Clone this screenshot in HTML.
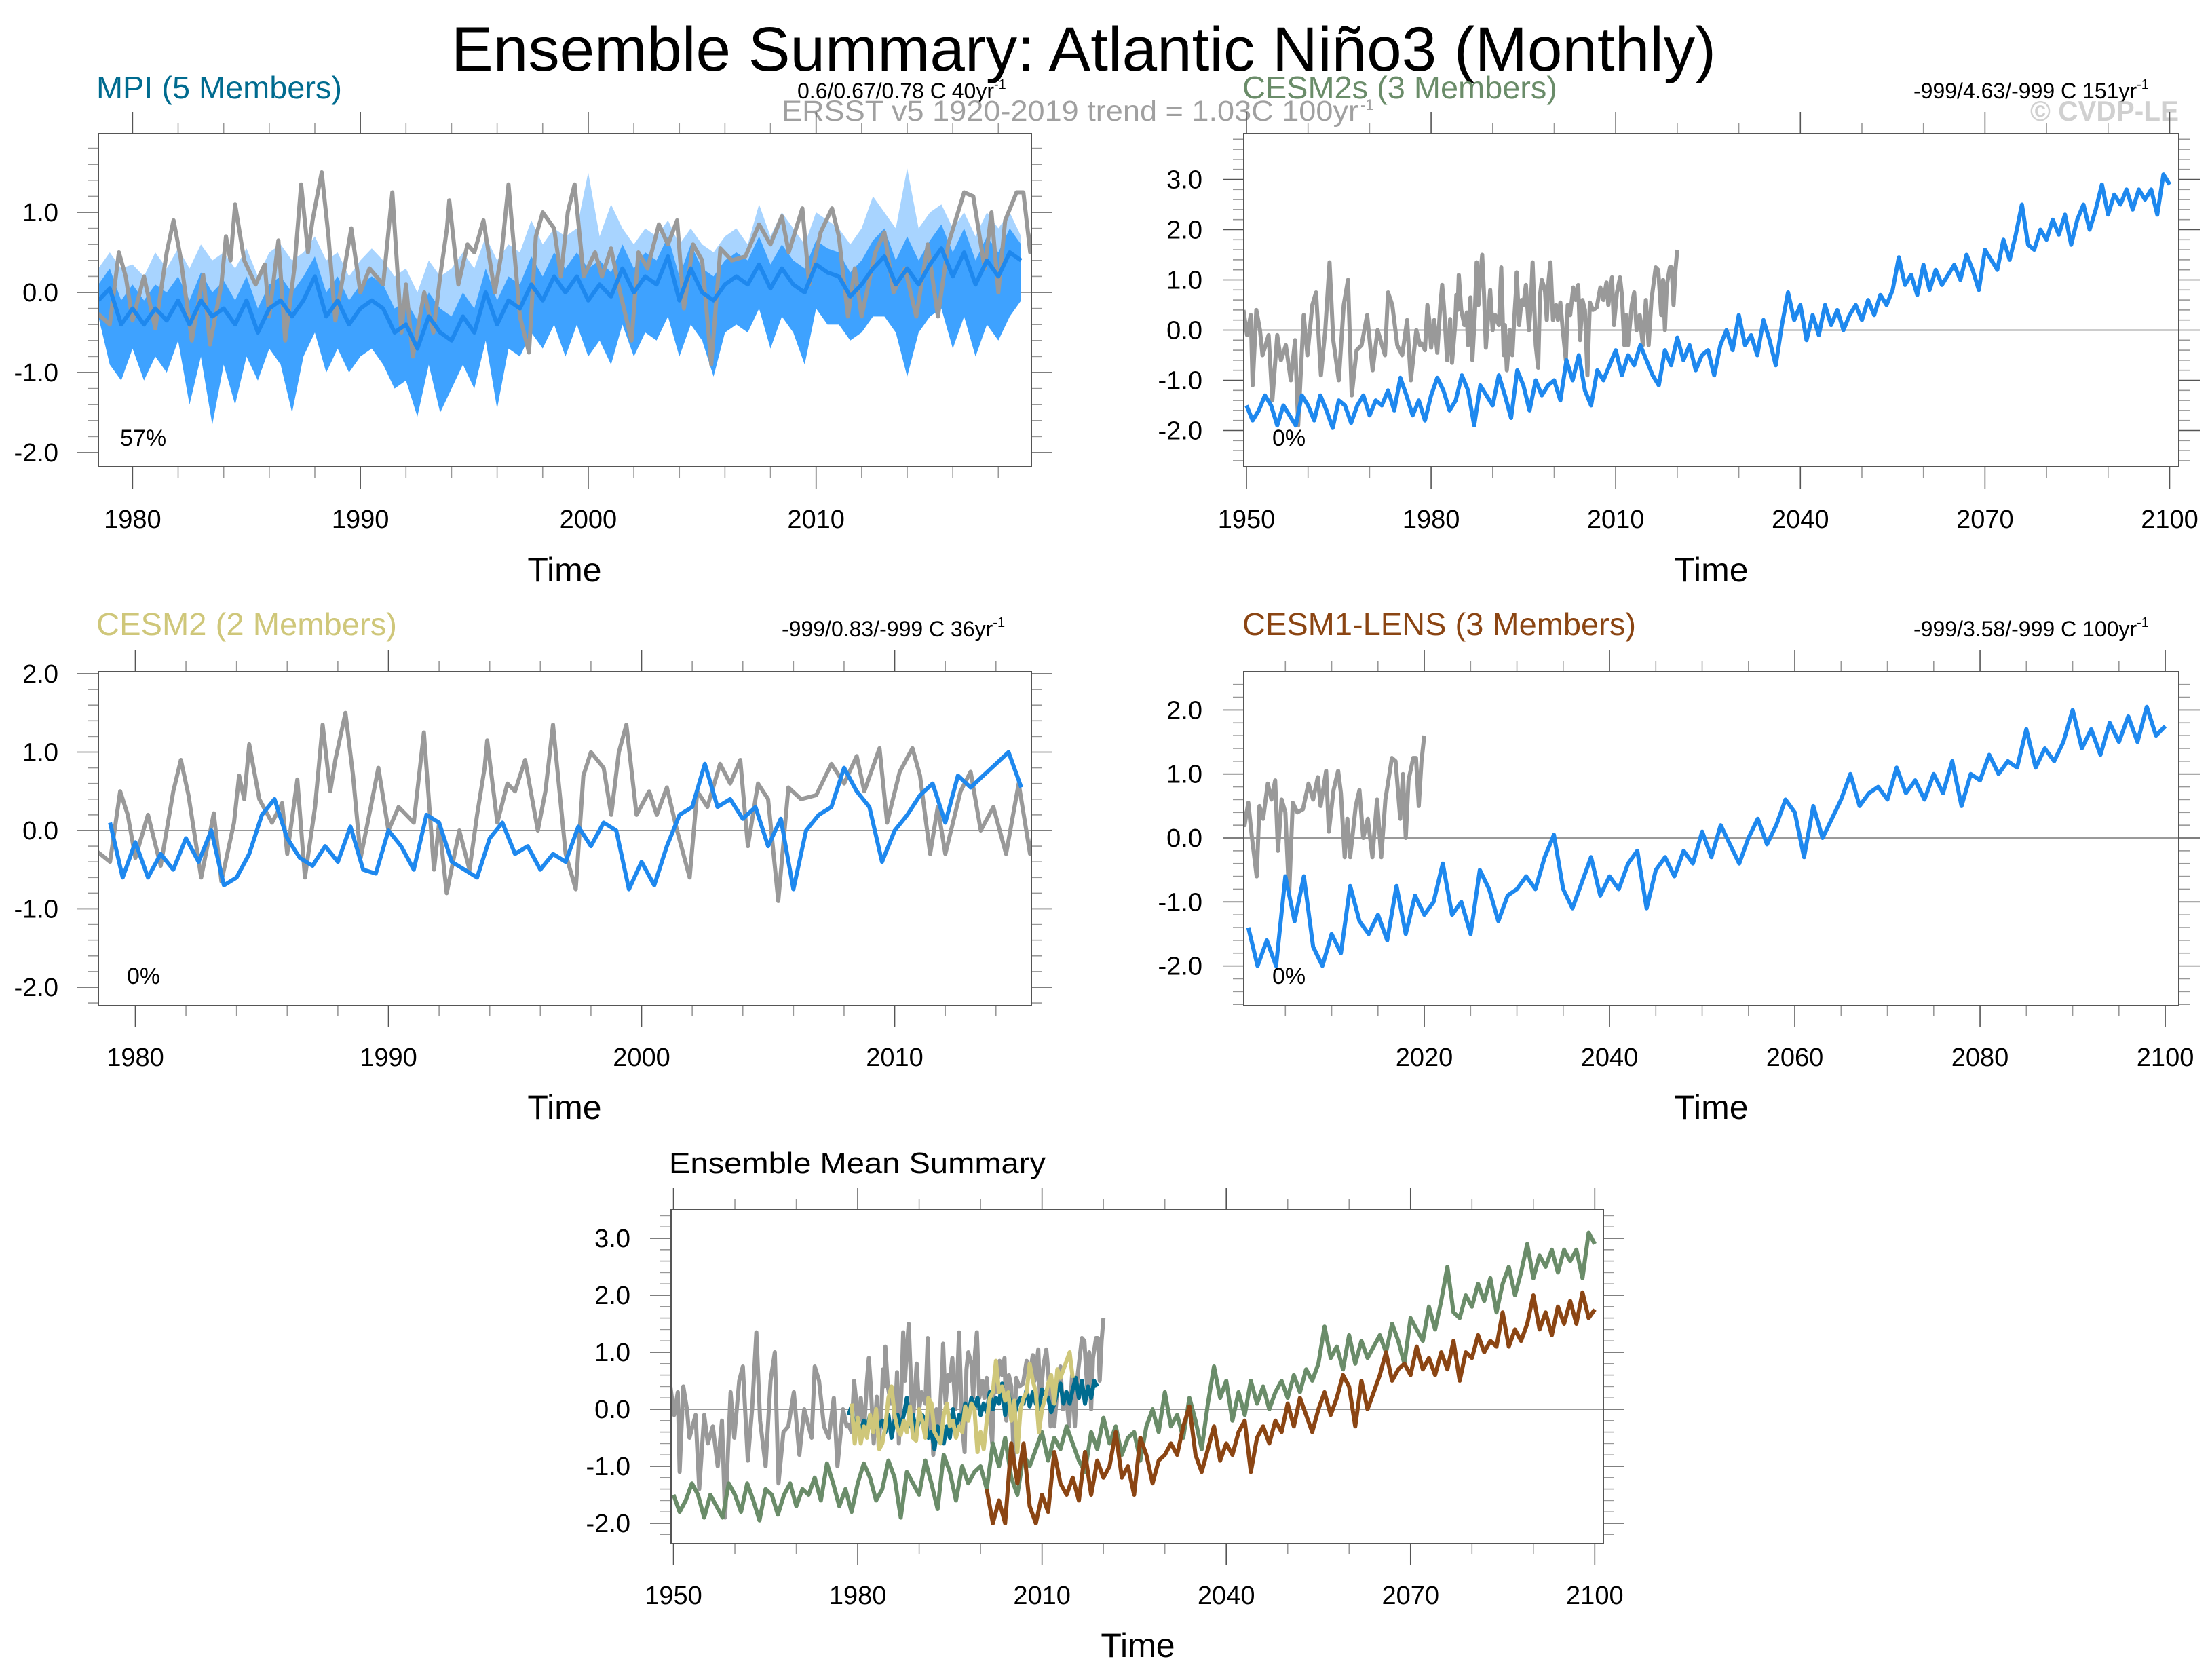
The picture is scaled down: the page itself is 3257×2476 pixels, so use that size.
<!DOCTYPE html>
<html><head><meta charset="utf-8"><style>
html,body{margin:0;padding:0;background:#fff;}
svg{display:block;font-family:"Liberation Sans",Arial,sans-serif;}
</style></head><body>
<svg id="chart" xmlns="http://www.w3.org/2000/svg" width="3257" height="2476" viewBox="0 0 3257 2476">
<rect x="0" y="0" width="3257" height="2476" fill="#fff"/>
<text x="665" y="104" font-size="92" textLength="1864" lengthAdjust="spacingAndGlyphs" fill="#000">Ensemble Summary: Atlantic Niño3 (Monthly)</text>

<text x="142" y="145" font-size="46" fill="#006b8f" textLength="362" lengthAdjust="spacingAndGlyphs">MPI (5 Members)</text>
<text x="1175" y="145" font-size="32" fill="#000">0.6/0.67/0.78 C 40yr<tspan dy="-14" font-size="20">-1</tspan></text>
<text x="1831" y="145" font-size="46" fill="#6a8c69" textLength="464" lengthAdjust="spacingAndGlyphs">CESM2s (3 Members)</text>
<text x="2820" y="145" font-size="32" fill="#000">-999/4.63/-999 C 151yr<tspan dy="-14" font-size="20">-1</tspan></text>
<text x="1152" y="178" font-size="43" fill="#a0a0a0" textLength="850" lengthAdjust="spacingAndGlyphs">ERSST v5 1920-2019 trend = 1.03C 100yr</text>
<text x="2005" y="162" font-size="22" fill="#a0a0a0">-1</text>
<text x="2992" y="178" font-size="42" font-weight="bold" fill="#d0d0d0" textLength="219" lengthAdjust="spacingAndGlyphs">© CVDP-LE</text>

<text x="142" y="936" font-size="46" fill="#cfc77a" textLength="443" lengthAdjust="spacingAndGlyphs">CESM2 (2 Members)</text>
<text x="1152" y="938" font-size="32" fill="#000">-999/0.83/-999 C 36yr<tspan dy="-14" font-size="20">-1</tspan></text>
<text x="1831" y="936" font-size="46" fill="#8b4513" textLength="580" lengthAdjust="spacingAndGlyphs">CESM1-LENS (3 Members)</text>
<text x="2820" y="938" font-size="32" fill="#000">-999/3.58/-999 C 100yr<tspan dy="-14" font-size="20">-1</tspan></text>
<text x="986" y="1729" font-size="44" fill="#000" textLength="555" lengthAdjust="spacingAndGlyphs">Ensemble Mean Summary</text>

<text x="177" y="657" font-size="34" fill="#000">57%</text>
<text x="1875" y="657" font-size="34" fill="#000">0%</text>
<text x="187" y="1450" font-size="34" fill="#000">0%</text>
<text x="1875" y="1450" font-size="34" fill="#000">0%</text>
<g id="panels"></g>
</svg>
<script>
// ---------- data ----------
const obsYears=[1949.5,1950.1,1950.7,1951.0,1951.6,1952.2,1952.6,1953.6,1954.2,1955.0,1955.6,1956.4,1957.2,1957.9,1958.4,1959.3,1959.9,1960.7,1961.3,1962.1,1962.8,1963.5,1964.1,1965.0,1965.8,1966.5,1967.1,1967.9,1968.7,1969.6,1970.5,1971.3,1972.5,1973.0,1973.7,1974.5,1975.3,1976.1,1976.7,1977.6,1978.2,
1978.5,1979.0,1979.4,1979.7,1980.0,1980.5,1981.0,1981.5,1981.8,1982.1,1982.6,1983.1,1983.4,1983.9,1984.1,1984.3,1984.5,1984.9,1985.4,1985.8,1986.0,1986.4,1986.7,1987.1,1987.4,1987.7,1987.9,1988.3,1988.6,1988.9,1989.3,1989.6,1990.0,1990.4,1991.0,1991.4,1991.8,1992.0,1992.3,1992.8,1993.2,1993.5,1993.8,1993.9,1994.3,1994.7,1995.0,1995.4,1995.9,1996.2,1996.5,1997.0,1997.4,1997.7,1998.0,1998.5,1998.8,1999.1,1999.4,1999.8,2000.3,2000.6,2001.0,2001.4,2001.9,2002.2,2002.6,2003.1,2003.5,2003.9,2004.2,2004.6,2005.0,2005.4,2005.8,2006.3,2006.9,2007.5,2008.0,2008.5,2008.8,2009.4,2009.7,2010.2,2010.7,2011.0,2011.4,2011.7,2012.0,2012.6,2013.0,2013.4,2013.9,2014.4,2014.9,2015.35,2015.8,2016.5,2016.9,2017.4,2017.7,2018.0,2018.3,2018.8,2019.1,2019.4,2019.7,2020.0];
const obsVals=[0.4,-0.1,0.3,-1.1,0.4,0.0,-0.5,-0.1,-1.4,-0.1,-0.6,-0.3,-1.0,-0.2,-1.9,0.3,-0.5,0.5,0.75,-0.9,0.0,1.35,-0.2,-1.0,0.5,1.0,-1.3,-0.4,-0.3,0.3,-0.8,0.0,-0.5,0.75,0.5,-0.3,-0.5,0.2,-1.0,0.0,-0.3,
-0.27,-0.4,0.5,0.2,-0.35,0.2,-0.45,0.5,0.9,0.45,-0.6,0.22,-0.65,0.1,0.7,0.4,1.1,0.4,0.1,0.35,-0.3,0.65,-0.6,0.3,1.35,0.5,0.9,1.5,0.7,-0.35,0.3,0.8,0.0,0.3,0.1,1.25,-0.5,0.1,-0.8,0.0,-0.5,0.2,0.8,1.15,0.1,0.6,0.5,0.9,0.0,0.5,1.35,-0.3,-0.75,0.7,1.0,0.8,0.2,1.0,1.35,0.2,0.5,0.2,0.55,0.0,-0.6,0.5,0.3,0.85,0.6,0.9,-0.2,0.6,0.4,-0.9,0.55,0.4,0.45,0.85,0.6,0.95,0.5,1.05,0.1,0.75,1.05,0.7,-0.3,0.3,-0.3,0.5,0.75,0.0,0.3,-0.3,0.6,-0.3,0.6,1.25,1.2,0.3,1.0,0.0,0.9,1.25,1.25,0.5,1.2,1.6];

const mpiStart=1978.5, mpiStep=0.5;
const mpiMean=[-0.1,0.05,-0.4,-0.2,-0.4,-0.2,-0.35,-0.1,-0.4,-0.1,-0.3,-0.2,-0.4,-0.1,-0.5,-0.2,-0.1,-0.3,-0.1,0.2,-0.3,-0.1,-0.4,-0.2,-0.1,-0.2,-0.5,-0.4,-0.7,-0.3,-0.5,-0.6,-0.3,-0.5,0.0,-0.4,-0.1,-0.2,0.1,-0.1,0.2,0.0,0.2,-0.1,0.1,-0.05,0.3,0.0,0.2,0.1,0.45,-0.1,0.3,0.0,-0.1,0.1,0.2,0.1,0.35,0.05,0.3,0.1,0.0,0.35,0.25,0.2,-0.05,0.1,0.3,0.45,0.1,0.3,0.1,0.35,0.55,0.2,0.5,0.1,0.4,0.2,0.5,0.4];
const mpiHi=[0.3,0.5,0.3,0.35,0.2,0.5,0.3,0.55,0.3,0.6,0.4,0.5,0.3,0.55,0.2,0.5,0.6,0.4,0.5,0.7,0.4,0.5,0.2,0.4,0.55,0.4,0.2,0.3,0.0,0.4,0.2,0.3,0.5,0.3,0.7,0.4,0.6,0.5,0.9,0.6,0.8,0.7,0.8,1.5,0.7,1.1,0.8,0.6,0.8,0.7,0.9,0.6,0.8,0.6,0.5,0.7,0.8,0.6,1.1,0.7,1.0,0.8,0.6,1.0,0.9,0.8,0.6,0.8,1.2,1.0,0.8,1.55,0.8,1.0,1.1,0.8,1.0,0.7,1.0,0.8,1.0,0.7];
const mpiMid=[0.1,0.3,-0.1,0.1,-0.1,0.1,0.0,0.2,-0.1,0.25,0.0,0.15,-0.1,0.2,-0.2,0.1,0.2,0.0,0.2,0.45,0.0,0.2,-0.1,0.1,0.2,0.1,-0.2,-0.1,-0.35,0.0,-0.2,-0.3,0.0,-0.2,0.3,-0.1,0.2,0.1,0.45,0.2,0.5,0.3,0.5,0.3,0.4,0.25,0.6,0.3,0.5,0.4,0.7,0.2,0.6,0.3,0.2,0.4,0.5,0.4,0.7,0.35,0.6,0.4,0.3,0.65,0.55,0.5,0.25,0.4,0.65,0.8,0.4,0.7,0.4,0.65,0.85,0.5,0.8,0.4,0.7,0.5,0.8,0.6];
const mpiLo=[-0.3,-0.9,-1.1,-0.7,-1.1,-0.8,-1.0,-0.6,-1.4,-0.8,-1.65,-0.9,-1.4,-0.8,-1.1,-0.7,-0.9,-1.5,-0.8,-0.5,-1.0,-0.7,-1.0,-0.8,-0.7,-0.9,-1.2,-1.1,-1.55,-0.9,-1.5,-1.2,-0.9,-1.2,-0.6,-1.45,-0.7,-0.8,-0.5,-0.7,-0.4,-0.8,-0.4,-0.8,-0.6,-0.9,-0.4,-0.8,-0.5,-0.6,-0.3,-0.8,-0.4,-0.6,-1.05,-0.5,-0.4,-0.5,-0.2,-0.7,-0.3,-0.5,-0.9,-0.2,-0.4,-0.4,-0.6,-0.5,-0.3,-0.3,-0.5,-1.05,-0.5,-0.3,-0.2,-0.7,-0.3,-0.8,-0.4,-0.6,-0.3,-0.1];

const cesm2Start=1979.0, cesm2Step=0.5;
const cesm2Vals=[0.1,-0.6,-0.15,-0.6,-0.3,-0.5,-0.1,-0.4,0.0,-0.7,-0.6,-0.3,0.2,0.4,-0.1,-0.35,-0.45,-0.2,-0.4,0.05,-0.5,-0.55,0.0,-0.2,-0.5,0.2,0.1,-0.4,-0.5,-0.6,-0.1,0.1,-0.3,-0.2,-0.5,-0.3,-0.4,0.05,-0.2,0.1,0.0,-0.75,-0.4,-0.7,-0.2,0.2,0.3,0.85,0.3,0.4,0.15,0.3,-0.2,0.15,-0.75,0.0,0.2,0.3,0.8,0.5,0.3,-0.4,0.0,0.2,0.45,0.6,0.1,0.7,0.55,0.7,0.85,1.0,0.55];

const cesm2sStart=1950, cesm2sStep=1;
const cesm2sVals=[-1.5,-1.8,-1.6,-1.3,-1.5,-1.9,-1.5,-1.7,-1.9,-1.3,-1.5,-1.8,-1.3,-1.6,-1.95,-1.4,-1.5,-1.85,-1.5,-1.3,-1.7,-1.4,-1.5,-1.2,-1.6,-0.95,-1.3,-1.7,-1.4,-1.8,-1.3,-0.95,-1.2,-1.6,-1.4,-0.9,-1.2,-1.9,-1.1,-1.3,-1.5,-0.9,-1.3,-1.75,-0.8,-1.1,-1.6,-1.0,-1.3,-1.1,-1.0,-1.4,-0.6,-1.0,-0.5,-1.2,-1.5,-0.8,-1.0,-0.7,-0.4,-0.9,-0.5,-0.7,-0.3,-0.6,-0.9,-1.1,-0.4,-0.7,-0.15,-0.6,-0.3,-0.8,-0.5,-0.4,-0.9,-0.3,0.0,-0.4,0.3,-0.3,-0.1,-0.5,0.2,-0.2,-0.7,0.1,0.75,0.2,0.5,-0.2,0.3,-0.1,0.5,0.1,0.4,0.0,0.3,0.5,0.2,0.6,0.3,0.7,0.5,0.8,1.45,0.9,1.1,0.7,1.3,0.8,1.2,0.9,1.1,1.3,1.0,1.5,1.2,0.8,1.6,1.4,1.2,1.8,1.4,1.9,2.5,1.7,1.6,2.0,1.8,2.2,1.9,2.3,1.7,2.2,2.5,2.0,2.4,2.9,2.3,2.7,2.5,2.8,2.4,2.8,2.6,2.8,2.3,3.1,2.9];

const cesm1Start=2001, cesm1Step=1;
const cesm1Vals=[-1.4,-2.0,-1.6,-2.0,-0.6,-1.3,-0.6,-1.7,-2.0,-1.5,-1.8,-0.75,-1.3,-1.5,-1.2,-1.6,-0.75,-1.5,-0.9,-1.2,-1.0,-0.4,-1.2,-1.0,-1.5,-0.5,-0.8,-1.3,-0.9,-0.8,-0.6,-0.8,-0.3,0.05,-0.8,-1.1,-0.7,-0.3,-0.9,-0.6,-0.8,-0.4,-0.2,-1.1,-0.5,-0.3,-0.6,-0.2,-0.4,0.1,-0.3,0.2,-0.1,-0.4,0.0,0.3,-0.1,0.2,0.6,0.4,-0.3,0.5,0.0,0.3,0.6,1.0,0.5,0.7,0.8,0.6,1.1,0.7,0.9,0.6,1.0,0.7,1.2,0.5,1.0,0.9,1.3,1.0,1.2,1.1,1.7,1.1,1.4,1.2,1.5,2.0,1.4,1.7,1.3,1.8,1.5,1.9,1.5,2.05,1.6,1.75];

// tick labels
const ticksX1=[1980,1990,2000,2010];
const ticksX2=[1950,1980,2010,2040,2070,2100];
const ticksX4=[2020,2040,2060,2080,2100];
const ticksY1=[-2,-1,0,1];
const ticksY2=[-2,-1,0,1,2,3];
const ticksY3=[-2,-1,0,1,2];

// ---------- drawing ----------
const NS='http://www.w3.org/2000/svg';
const root=document.getElementById('panels');
function mk(tag,attrs,parent){const e=document.createElementNS(NS,tag);for(const k in attrs)e.setAttribute(k,attrs[k]);(parent||root).appendChild(e);return e;}
function seriesFrom(start,step,vals){return vals.map((v,i)=>[start+i*step,v]);}

const panels=[
 {name:'mpi',x0:145,x1:1520,y0:197,y1:688,xmin:1978.5,xmax:2019.45,ymin:-2.178,ymax:1.983,xt:ticksX1,xminor:2,yt:ticksY1,ylab:86,tickBase:778,timeX:832,timeY:857},
 {name:'cesm2s',x0:1833,x1:3211,y0:197,y1:688,xmin:1949.56,xmax:2101.49,ymin:-2.723,ymax:3.912,xt:ticksX2,xminor:10,yt:ticksY2,ylab:1772,tickBase:778,timeX:2522,timeY:857},
 {name:'cesm2',x0:145,x1:1520,y0:990,y1:1482,xmin:1978.54,xmax:2015.4,ymin:-2.234,ymax:2.026,xt:ticksX1,xminor:2,yt:ticksY3,ylab:86,tickBase:1571,timeX:832,timeY:1649},
 {name:'cesm1',x0:1833,x1:3211,y0:990,y1:1482,xmin:2000.51,xmax:2101.46,ymin:-2.619,ymax:2.598,xt:ticksX4,xminor:5,yt:ticksY3,ylab:1772,tickBase:1571,timeX:2522,timeY:1649},
 {name:'mean',x0:989,x1:2363,y0:1783,y1:2275,xmin:1949.61,xmax:2101.4,ymin:-2.357,ymax:3.5,xt:ticksX2,xminor:10,yt:ticksY2,ylab:929,tickBase:2364,timeX:1677,timeY:2442}
];

function axes(p){
 p.sx=v=>p.x0+(v-p.xmin)/(p.xmax-p.xmin)*(p.x1-p.x0);
 p.sy=v=>p.y1-(v-p.ymin)/(p.ymax-p.ymin)*(p.y1-p.y0);
}
function line(p,g,pts,color,w,name){
 const d=pts.map((q,i)=>(i?'L':'M')+p.sx(q[0]).toFixed(1)+','+p.sy(q[1]).toFixed(1)).join('');
 const e=mk('path',{d:d,fill:'none',stroke:color,'stroke-width':w,'stroke-linejoin':'round'},g);
 
 
}
function band(p,g,years,lo,hi,color,name){
 let d='';
 years.forEach((y,i)=>{d+=(i?'L':'M')+p.sx(y).toFixed(1)+','+p.sy(hi[i]).toFixed(1);});
 for(let i=years.length-1;i>=0;i--)d+='L'+p.sx(years[i]).toFixed(1)+','+p.sy(lo[i]).toFixed(1);
 const e=mk('path',{d:d+'Z',fill:color,stroke:'none'},g);
 
 
}

const obs=obsYears.map((y,i)=>[y,obsVals[i]]);
const mpiYears=mpiMean.map((v,i)=>mpiStart+i*mpiStep);
const mpiS=seriesFrom(mpiStart,mpiStep,mpiMean);
const cesm2S=seriesFrom(cesm2Start,cesm2Step,cesm2Vals);
const cesm2sS=seriesFrom(cesm2sStart,cesm2sStep,cesm2sVals);
const cesm1S=seriesFrom(cesm1Start,cesm1Step,cesm1Vals);

panels.forEach((p,k)=>{
 axes(p);
 const g=mk('g',{});
 
 
 const cid='clip'+k;
 const cp=mk('clipPath',{id:cid},g);
 mk('rect',{x:p.x0,y:p.y0,width:p.x1-p.x0,height:p.y1-p.y0},cp);
 const tg=mk('g',{stroke:'#888','stroke-width':1.6},g);
 
 
 const xs=Math.ceil(p.xmin/p.xminor)*p.xminor;
 for(let v=xs;v<=p.xmax+1e-6;v+=p.xminor){
  const X=p.sx(v);const major=p.xt.indexOf(Math.round(v))>=0;
  const L=major?32:16;
  mk('line',{x1:X,x2:X,y1:p.y1,y2:p.y1+L,stroke:major?'#555':'#999'},tg);
  mk('line',{x1:X,x2:X,y1:p.y0,y2:p.y0-L,stroke:major?'#555':'#999'},tg);
 }
 const ys=Math.ceil(p.ymin/0.2-1e-6);
 for(let n=ys;n*0.2<=p.ymax+1e-6;n++){
  const v=n*0.2;const Y=p.sy(v);const major=(n%5===0);
  const L=major?31:16;
  mk('line',{x1:p.x0-L,x2:p.x0,y1:Y,y2:Y,stroke:major?'#555':'#999'},tg);
  mk('line',{x1:p.x1,x2:p.x1+L,y1:Y,y2:Y,stroke:major?'#555':'#999'},tg);
 }
 p.xt.forEach(v=>{const t=mk('text',{x:p.sx(v),y:p.tickBase,'font-size':38,'text-anchor':'middle',fill:'#000'},g);t.textContent=v;
  });
 p.yt.forEach(v=>{const t=mk('text',{x:p.ylab,y:p.sy(v)+13,'font-size':38,'text-anchor':'end',fill:'#000'},g);t.textContent=v.toFixed(1);
  });
 const tt=mk('text',{x:p.timeX,y:p.timeY,'font-size':50,'text-anchor':'middle',fill:'#000'},g);tt.textContent='Time';
 
 const pg=mk('g',{'clip-path':'url(#'+cid+')'},g);
 
 
 const zl=mk('line',{x1:p.x0,x2:p.x1,y1:p.sy(0),y2:p.sy(0),stroke:'#999','stroke-width':2},pg);
 
 const blue='#1e88ee';
 if(p.name==='mpi'){
  band(p,pg,mpiYears,mpiLo,mpiHi,'#a8d4ff','mpi-range-band');
  band(p,pg,mpiYears,mpiLo,mpiMid,'#3ea2ff','mpi-inner-band');
  line(p,pg,obs,'#999',6,'obs-line');
  line(p,pg,mpiS,blue,6,'mpi-mean-line');
 } else if(p.name==='cesm2s'){
  line(p,pg,obs,'#999',6,'obs-line');
  line(p,pg,cesm2sS,blue,6,'cesm2s-mean-line');
 } else if(p.name==='cesm2'){
  line(p,pg,obs,'#999',6,'obs-line');
  line(p,pg,cesm2S,blue,6,'cesm2-mean-line');
 } else if(p.name==='cesm1'){
  line(p,pg,obs,'#999',6,'obs-line');
  line(p,pg,cesm1S,blue,6,'cesm1-mean-line');
 } else {
  line(p,pg,obs,'#999',6,'obs-line');
  line(p,pg,cesm2sS,'#6a8c69',6,'cesm2s-line');
  line(p,pg,cesm1S,'#8b4513',6,'cesm1-line');
  line(p,pg,mpiS,'#006b8f',6,'mpi-line');
  line(p,pg,cesm2S,'#cfc77a',6,'cesm2-line');
 }
 const fr=mk('rect',{x:p.x0,y:p.y0,width:p.x1-p.x0,height:p.y1-p.y0,fill:'none',stroke:'#555','stroke-width':2},g);
 
 
});
</script>
</body></html>
